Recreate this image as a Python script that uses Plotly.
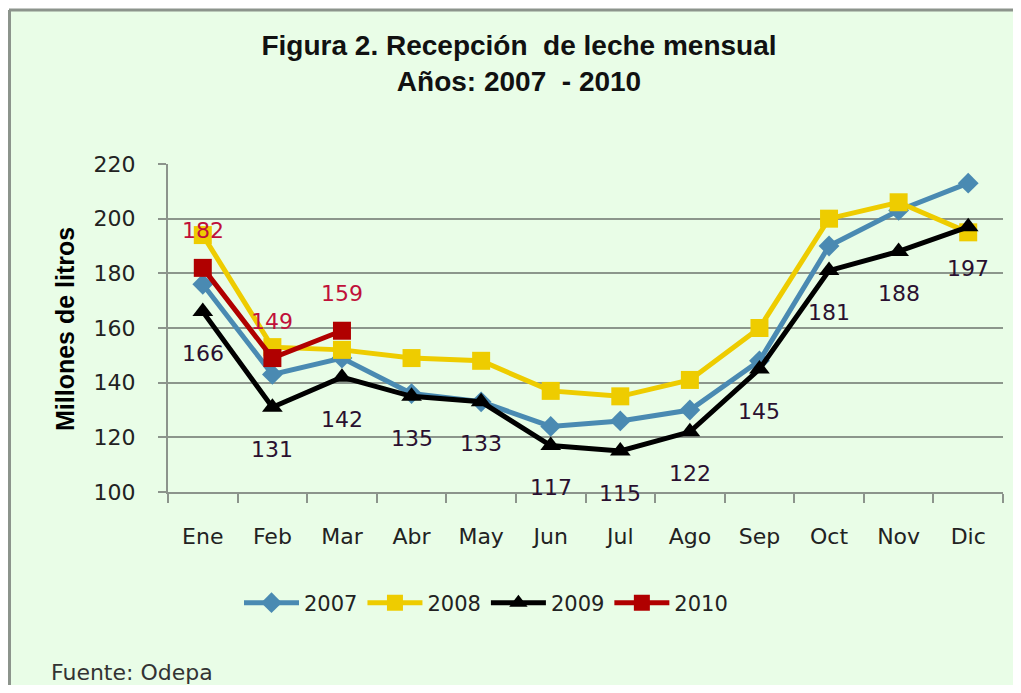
import plotly.graph_objects as go

months = ["Ene", "Feb", "Mar", "Abr", "May", "Jun", "Jul", "Ago", "Sep", "Oct", "Nov", "Dic"]
y2007 = [176, 143, 149, 136, 133, 124, 126, 130, 148, 190, 203, 213]
y2008 = [194, 153, 152, 149, 148, 137, 135, 141, 160, 200, 206, 195]
y2009 = [166, 131, 142, 135, 133, 117, 115, 122, 145, 181, 188, 197]
y2010 = [182, 149, 159]
months2010 = months[:3]

# page is offset by the default 8px body margin; keep figure inside the viewport
OFF = 8
W, H = 1021 - 2 * OFF, 693 - 2 * OFF
L, T = 168 - OFF, 164 - OFF
PW, PH = 835, 328
R = W - L - PW
B = H - T - PH

def px_x(p):  # p in reference page pixels
    return (p - OFF - L) / PW

def px_y(p):
    return (T + PH - (p - OFF)) / PH

BG = "#E9FDE7"
FAM = "DejaVu Sans, Verdana"
TICKFONT = dict(family=FAM, size=22, color="#222222")

fig = go.Figure()
fig.add_trace(go.Scatter(x=months, y=y2007, name="2007", mode="lines+markers",
                         line=dict(color="#4A8AB2", width=5),
                         marker=dict(symbol="diamond", size=16, color="#4A8AB2")))
fig.add_trace(go.Scatter(x=months, y=y2008, name="2008", mode="lines+markers",
                         line=dict(color="#EECC00", width=5),
                         marker=dict(symbol="square", size=18, color="#EECC00")))
fig.add_trace(go.Scatter(x=months, y=y2009, name="2009", mode="lines+markers",
                         line=dict(color="#000000", width=5),
                         marker=dict(symbol="triangle-up", size=18, color="#000000")))
fig.add_trace(go.Scatter(x=months2010, y=y2010, name="2010", mode="lines+markers",
                         line=dict(color="#B00000", width=5),
                         marker=dict(symbol="square", size=18, color="#B00000")))

annots = []
for m, v in zip(months, y2009):
    annots.append(dict(x=m, y=v, xref="x", yref="y", text=str(v), showarrow=False,
                       yshift=-42, font=dict(family=FAM, size=22, color="#2A1030")))
for m, v in zip(months2010, y2010):
    annots.append(dict(x=m, y=v, xref="x", yref="y", text=str(v), showarrow=False,
                       yshift=37, font=dict(family=FAM, size=22, color="#C0103A")))

annots.append(dict(x=px_x(65), y=px_y(329), xref="paper", yref="paper", text="<b>Millones de litros</b>",
                   textangle=-90, showarrow=False, xanchor="center", yanchor="middle",
                   font=dict(family="Liberation Sans, Arial", size=25, color="#000000")))
annots.append(dict(x=px_x(49), y=px_y(672), xref="paper", yref="paper", text="Fuente: Odepa",
                   xanchor="left", yanchor="middle", showarrow=False,
                   font=dict(family=FAM, size=22, color="#333333")))

shapes = [
    dict(type="rect", xref="paper", yref="paper", layer="below",
         x0=px_x(9), x1=px_x(1100), y0=px_y(800), y1=px_y(10),
         fillcolor=BG, line=dict(width=0)),
    dict(type="line", xref="paper", yref="paper", layer="below",
         x0=px_x(9), x1=px_x(1100), y0=px_y(10), y1=px_y(10),
         line=dict(color="#8C948C", width=3)),
    dict(type="line", xref="paper", yref="paper", layer="below",
         x0=px_x(9.5), x1=px_x(9.5), y0=px_y(10), y1=px_y(800),
         line=dict(color="#8C948C", width=3)),
]

fig.update_layout(
    width=W, height=H,
    margin=dict(l=L, r=R, t=T, b=B),
    paper_bgcolor="#FFFFFF",
    plot_bgcolor=BG,
    title=dict(text="<b>Figura 2. Recepción  de leche mensual<br>Años: 2007  - 2010</b>",
               x=px_x(519), xref="paper", xanchor="center",
               y=1 - 47 / H, yref="container", yanchor="top",
               font=dict(family="Liberation Sans, Arial", size=28, color="#111111")),
    xaxis=dict(type="category", range=[-0.5, 11.5], tickfont=TICKFONT,
               showgrid=False, showline=True, linecolor="#8C948C", linewidth=2,
               ticks="outside", tickson="boundaries", ticklen=9, tickcolor="#8C948C", tickwidth=2,
               ticklabelstandoff=24),
    yaxis=dict(range=[100, 220], dtick=20, tickfont=TICKFONT,
               showgrid=True, gridcolor="#8C968C", gridwidth=2,
               showline=True, linecolor="#8C948C", linewidth=2,
               ticks="outside", ticklen=8, tickcolor="#8C948C", tickwidth=2, zeroline=False,
               ticklabelstandoff=18),
    legend=dict(orientation="h", x=px_x(486), xanchor="center", y=px_y(603), yanchor="middle",
                font=dict(family=FAM, size=21, color="#222222"),
                bgcolor="rgba(0,0,0,0)", itemwidth=55),
    annotations=annots,
    shapes=shapes,
    showlegend=True,
)

fig.write_html("out.html")
